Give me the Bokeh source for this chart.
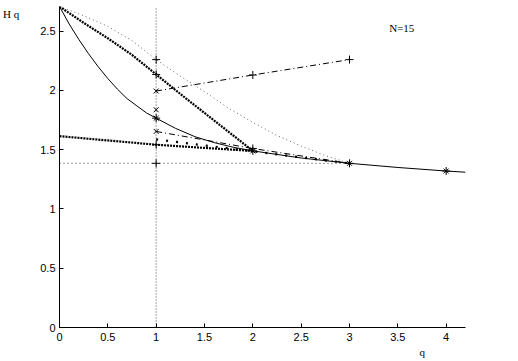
from bokeh.plotting import figure
from bokeh.models import Range1d, Label, FixedTicker, Title
from bokeh.embed import file_html
from bokeh.resources import INLINE

# Renyi entropy curve H_q (solid)
q_true = [0, 0.1, 0.2, 0.3, 0.4, 0.5, 0.6, 0.7, 0.8, 0.9, 1.0, 1.2, 1.4, 1.6, 1.8, 2.0, 2.5, 3.0, 3.5, 4.0, 4.2]
h_true = [2.708, 2.56, 2.43, 2.31, 2.20, 2.10, 2.01, 1.93, 1.87, 1.81, 1.766, 1.68, 1.61, 1.56, 1.52, 1.49, 1.43, 1.385, 1.35, 1.32, 1.31]

# upper thick dotted curve
q_up = [0, 0.25, 0.5, 0.75, 1.0, 1.25, 1.5, 1.75, 2.0]
h_up = [2.708, 2.57, 2.44, 2.30, 2.135, 1.97, 1.81, 1.65, 1.49]

# thin dotted curve
q_thin = [0, 0.25, 0.5, 0.75, 1.0, 1.25, 1.5, 1.75, 2.0, 2.25, 2.5, 2.75, 3.0]
h_thin = [2.708, 2.63, 2.54, 2.42, 2.26, 2.12, 1.99, 1.85, 1.73, 1.62, 1.53, 1.45, 1.385]

# lower thick dotted (flat) curve
q_flat = [0, 0.5, 1.0, 1.5, 2.0]
h_flat = [1.614, 1.578, 1.542, 1.515, 1.49]

# big dotted line
q_big = [1, 1.5, 2, 2.5, 3]
h_big = [1.587, 1.536, 1.487, 1.435, 1.385]

# dash-dot lines
q_dd_low = [1, 2, 3]
h_dd_low = [1.654, 1.51, 1.385]
q_dd_up = [1, 2, 3]
h_dd_up = [1.995, 2.13, 2.26]

# reference lines
q_hline = [0, 3]
h_hline = [1.385, 1.385]
q_vline = [1, 1]
h_vline = [0, 2.708]

# markers
q_plus = [1, 1, 1, 1, 1, 2, 2, 2, 3, 3, 4]
h_plus = [2.26, 2.135, 1.766, 1.542, 1.385, 2.13, 1.51, 1.49, 2.26, 1.385, 1.32]
q_cross = [1, 1, 1, 1, 2, 3, 4]
h_cross = [1.995, 1.837, 1.766, 1.654, 1.49, 1.385, 1.32]

x_ticks = [0, 0.5, 1, 1.5, 2, 2.5, 3, 3.5, 4]
x_labels = ["0", "0.5", "1", "1.5", "2", "2.5", "3", "3.5", "4"]
y_ticks = [0, 0.5, 1, 1.5, 2, 2.5]
y_labels = ["0", "0.5", "1", "1.5", "2", "2.5"]

p = figure(width=502, height=360, output_backend="svg", toolbar_location=None,
           x_range=Range1d(0, 4.2), y_range=Range1d(0, 2.708),
           min_border_left=57, min_border_right=37, min_border_top=6, min_border_bottom=33)
p.outline_line_color = None
p.grid.visible = False
p.background_fill_color = "white"
p.border_fill_color = "white"

for ax, ticks, labels in ((p.xaxis, x_ticks, x_labels), (p.yaxis, y_ticks, y_labels)):
    ax.ticker = FixedTicker(ticks=ticks)
    ax.major_label_overrides = {t: l for t, l in zip(ticks, labels)}
    ax.major_tick_in = 4
    ax.major_tick_out = 0
    ax.minor_tick_line_color = None
    ax.axis_line_color = "black"
    ax.major_tick_line_color = "black"
    ax.major_label_text_font = "Liberation Sans"
    ax.major_label_text_font_size = "11px"
    ax.major_label_text_color = "black"
p.xaxis.major_label_standoff = 5
p.yaxis.major_label_standoff = 4

# y-axis label H_q near the top of the axis, horizontal
yax = p.yaxis[0]
yax.axis_label = "\nH q"
yax.axis_label_orientation = "horizontal"
yax.axis_label_standoff = 18
yax.axis_label_text_font = "Liberation Serif"
yax.axis_label_text_font_size = "11px"
yax.axis_label_text_font_style = "normal"
yax.axis_label_text_color = "black"
try:
    yax.axis_label_align = "end"
except Exception:
    pass

p.line(q_vline, h_vline, color="black", line_width=1, line_dash="1 2", line_alpha=0.7)
p.line(q_hline, h_hline, color="black", line_width=1, line_dash="1 3", line_alpha=0.8)
p.line(q_thin, h_thin, color="black", line_width=1, line_dash="1 3", line_alpha=0.6)
p.line(q_up, h_up, color="black", line_width=2.2, line_dash="2 1")
p.line(q_flat, h_flat, color="black", line_width=2.2, line_dash="2 1")
p.line(q_big, h_big, color="black", line_width=2.2, line_dash="2 8")
p.line(q_true, h_true, color="black", line_width=1)
p.line(q_dd_low, h_dd_low, color="black", line_width=1, line_dash="6 3 1 3")
p.line(q_dd_up, h_dd_up, color="black", line_width=1, line_dash="6 3 1 3")

p.scatter(q_plus, h_plus, marker="cross", size=8, line_color="black", line_width=1)
p.scatter(q_cross, h_cross, marker="x", size=7, line_color="black", line_width=1)

# N=15 inside the frame
p.add_layout(Label(x=3.541, y=2.523, text="N=15", text_font="Liberation Serif", text_font_size="11px",
                   text_align="center", text_baseline="middle", text_color="black"))

# x-axis label "q" (below, toward the right end)
p.add_layout(Title(text="q", align="left", offset=360, standoff=0, text_font="Liberation Serif",
                   text_font_size="11px", text_font_style="normal", text_color="black"), "below")

open("out.html", "w").write(file_html(p, INLINE))
